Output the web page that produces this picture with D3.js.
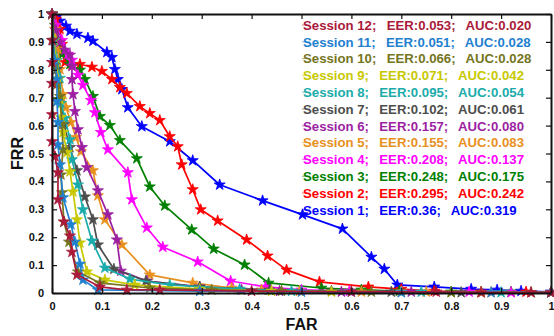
<!DOCTYPE html>
<html><head><meta charset="utf-8">
<script src="https://cdn.jsdelivr.net/npm/d3@7"></script>
<style>
html,body{margin:0;padding:0;background:#fff;}
svg{display:block;}
text{font-family:"Liberation Sans",Arial,Helvetica,sans-serif;font-weight:bold;}
</style></head>
<body>
<svg id="chart" width="554" height="336"></svg>
<script>
// ---- data: [FAR, FRR] pairs per session ----
const session1 = [[0,1],[0.008,0.99],[0.016,0.975],[0.028,0.957],[0.036,0.939],[0.05,0.928],[0.072,0.914],[0.082,0.903],[0.11,0.863],[0.12,0.845],[0.126,0.802],[0.132,0.766],[0.14,0.73],[0.152,0.665],[0.18,0.597],[0.236,0.543],[0.282,0.475],[0.336,0.388],[0.422,0.331],[0.502,0.281],[0.582,0.23],[0.64,0.129],[0.666,0.086],[0.692,0.029],[0.766,0.022],[0.84,0.014],[0.892,0.011],[0.94,0.007],[1,0.004]];
const session2 = [[0,1],[0.008,0.982],[0.016,0.946],[0.02,0.892],[0.02,0.863],[0.026,0.827],[0.04,0.817],[0.056,0.82],[0.08,0.81],[0.1,0.795],[0.12,0.766],[0.136,0.737],[0.15,0.716],[0.176,0.669],[0.196,0.644],[0.216,0.619],[0.236,0.561],[0.252,0.525],[0.26,0.46],[0.282,0.371],[0.298,0.299],[0.332,0.259],[0.39,0.191],[0.432,0.133],[0.47,0.083],[0.536,0.04],[0.634,0.022],[0.7,0.014],[0.766,0.007],[0.86,0.004],[0.95,0.004],[1,0.002]];
const session3 = [[0,1],[0.006,0.96],[0.012,0.906],[0.02,0.856],[0.036,0.82],[0.056,0.799],[0.066,0.766],[0.082,0.705],[0.096,0.633],[0.116,0.601],[0.136,0.547],[0.17,0.482],[0.196,0.381],[0.226,0.313],[0.28,0.227],[0.324,0.158],[0.386,0.101],[0.434,0.036],[0.54,0.018],[0.62,0.011],[0.696,0.007],[0.8,0.004],[0.92,0.004],[1,0.002]];
const session4 = [[0,1],[0.008,0.96],[0.02,0.906],[0.032,0.856],[0.04,0.835],[0.052,0.781],[0.062,0.745],[0.078,0.691],[0.086,0.647],[0.098,0.576],[0.112,0.514],[0.152,0.432],[0.16,0.335],[0.19,0.234],[0.222,0.165],[0.292,0.112],[0.358,0.043],[0.428,0.022],[0.5,0.011],[0.596,0.007],[0.7,0.004],[0.836,0.004],[0.92,0.002],[1,0.002]];
const session5 = [[0,1],[0.006,0.946],[0.012,0.874],[0.016,0.802],[0.022,0.712],[0.028,0.665],[0.038,0.612],[0.048,0.558],[0.058,0.507],[0.082,0.439],[0.092,0.349],[0.106,0.263],[0.14,0.173],[0.196,0.065],[0.282,0.036],[0.36,0.018],[0.42,0.011],[0.496,0.007],[0.62,0.004],[0.75,0.004],[0.88,0.002],[1,0.002]];
const session6 = [[0,1],[0.008,0.942],[0.016,0.899],[0.026,0.871],[0.036,0.853],[0.04,0.813],[0.04,0.766],[0.042,0.712],[0.046,0.651],[0.052,0.586],[0.06,0.522],[0.07,0.45],[0.092,0.367],[0.112,0.281],[0.13,0.191],[0.138,0.079],[0.19,0.043],[0.296,0.022],[0.38,0.011],[0.456,0.007],[0.58,0.004],[0.72,0.004],[0.86,0.002],[1,0.002]];
const session7 = [[0,1],[0.004,0.906],[0.01,0.802],[0.016,0.694],[0.024,0.604],[0.036,0.522],[0.05,0.439],[0.066,0.345],[0.082,0.263],[0.092,0.173],[0.124,0.086],[0.188,0.043],[0.296,0.022],[0.436,0.011],[0.56,0.007],[0.68,0.004],[0.82,0.002],[1,0.002]];
const session8 = [[0,1],[0.004,0.906],[0.01,0.834],[0.016,0.77],[0.018,0.68],[0.026,0.626],[0.036,0.55],[0.04,0.478],[0.052,0.388],[0.062,0.299],[0.08,0.187],[0.106,0.09],[0.156,0.05],[0.236,0.029],[0.376,0.014],[0.48,0.007],[0.6,0.004],[0.74,0.004],[0.9,0.002],[1,0.002]];
const session9 = [[0,1],[0.004,0.906],[0.008,0.834],[0.012,0.766],[0.016,0.694],[0.018,0.63],[0.022,0.576],[0.03,0.504],[0.036,0.435],[0.042,0.363],[0.05,0.263],[0.056,0.18],[0.07,0.076],[0.106,0.047],[0.166,0.029],[0.296,0.014],[0.44,0.007],[0.56,0.004],[0.7,0.004],[0.86,0.002],[1,0.002]];
const session10 = [[0,1],[0.002,0.906],[0.006,0.817],[0.01,0.748],[0.016,0.705],[0.02,0.604],[0.022,0.514],[0.018,0.424],[0.02,0.36],[0.024,0.255],[0.034,0.183],[0.052,0.076],[0.096,0.036],[0.196,0.018],[0.32,0.011],[0.46,0.007],[0.64,0.004],[0.8,0.002],[0.96,0.002],[1,0.002]];
const session11 = [[0,1],[0.002,0.906],[0.006,0.834],[0.01,0.766],[0.01,0.687],[0.012,0.612],[0.012,0.532],[0.016,0.46],[0.022,0.342],[0.038,0.245],[0.046,0.183],[0.056,0.104],[0.062,0.047],[0.092,0.011],[0.296,0.007],[0.5,0.004],[0.7,0.002],[0.88,0.002],[1,0.002]];
const session12 = [[0,1],[0,0.906],[0,0.827],[0,0.752],[0,0.64],[0,0.543],[0.006,0.489],[0.012,0.432],[0.012,0.335],[0.024,0.255],[0.036,0.205],[0.04,0.147],[0.05,0.065],[0.096,0.022],[0.15,0.011],[0.216,0.011],[0.4,0.007],[0.6,0.004],[0.77,0.004],[0.86,0.002],[0.96,0.002],[1,0.002]];

const sessionNames = ["Session 1","Session 2","Session 3","Session 4","Session 5","Session 6","Session 7","Session 8","Session 9","Session 10","Session 11","Session 12"];
const eerValues = ["0.36","0.295","0.248","0.208","0.155","0.157","0.102","0.095","0.071","0.066","0.051","0.053"];
const aucValues = ["0.319","0.242","0.175","0.137","0.083","0.080","0.061","0.054","0.042","0.028","0.028","0.020"];
const sessionColors = ["#0000ff","#ff0000","#008000","#ff00ff","#e8901e","#9c1fa2","#4d4d4d","#1aabab","#c8c800","#75751e","#1f80d0","#aa1a3a"];
const xTicks = [0,0.1,0.2,0.3,0.4,0.5,0.6,0.7,0.8,0.9,1];
const yTicks = [0,0.1,0.2,0.3,0.4,0.5,0.6,0.7,0.8,0.9,1];
const xTickLabels = ["0","0.1","0.2","0.3","0.4","0.5","0.6","0.7","0.8","0.9","1"];
const yTickLabels = ["0","0.1","0.2","0.3","0.4","0.5","0.6","0.7","0.8","0.9","1"];
const sessions = [session1,session2,session3,session4,session5,session6,session7,session8,session9,session10,session11,session12];

(function(){
// ---- layout ----
const L = 52, R = 551, T = 14, B = 293;
const svg = d3.select("#chart");
const x = d3.scaleLinear().domain([0,1]).range([L,R]);
const y = d3.scaleLinear().domain([0,1]).range([B,T]);

// curves
const line = d3.line().x(d=>x(d[0])).y(d=>y(d[1]));
const star = d3.symbol().type(d3.symbolStar).size(38);
sessions.forEach((s,i)=>{
  const g = svg.append("g");
  g.append("path").attr("d",line(s)).attr("fill","none")
    .attr("stroke",sessionColors[i]).attr("stroke-width",1.7).attr("stroke-linejoin","round");
  g.selectAll("path.m").data(s).enter().append("path").attr("class","m")
    .attr("d",star).attr("transform",d=>`translate(${x(d[0])},${y(d[1])})`)
    .attr("fill",sessionColors[i]).attr("stroke",sessionColors[i]).attr("stroke-width",0.8);
});

// axes (ticks inside, box)
const axisColor = "#111";
const ax = svg.append("g");
const axB = d3.axisBottom(x).tickValues(xTicks).tickFormat((d,i)=>xTickLabels[i]).tickSizeInner(-5).tickSizeOuter(0).tickPadding(9);
const axL = d3.axisLeft(y).tickValues(yTicks).tickFormat((d,i)=>yTickLabels[i]).tickSizeInner(-5).tickSizeOuter(0).tickPadding(8);
const axT = d3.axisTop(x).tickValues(xTicks).tickFormat("").tickSizeInner(-5).tickSizeOuter(0);
const axR = d3.axisRight(y).tickValues(yTicks).tickFormat("").tickSizeInner(-5).tickSizeOuter(0);
const gB = ax.append("g").attr("transform",`translate(0,${B})`).call(axB);
const gL = ax.append("g").attr("transform",`translate(${L},0)`).call(axL);
const gT = ax.append("g").attr("transform",`translate(0,${T})`).call(axT);
const gR = ax.append("g").attr("transform",`translate(${R},0)`).call(axR);
[gB,gL,gT,gR].forEach(g=>{
  g.select(".domain").attr("stroke",axisColor).attr("stroke-width",2);
  g.selectAll(".tick line").attr("stroke",axisColor).attr("stroke-width",1.2);
  g.selectAll(".tick text").attr("fill","#111").style("font-size","11px").style("font-weight","bold").style("font-family","'Liberation Sans',Arial,sans-serif");
});

// axis titles
svg.append("text").attr("x",(L+R)/2).attr("y",330).attr("text-anchor","middle")
  .style("font-size","16px").attr("fill","#111").text("FAR");
svg.append("text").attr("transform",`translate(23,${(T+B)/2}) rotate(-90)`).attr("text-anchor","middle")
  .style("font-size","16px").attr("fill","#111").text("FRR");

// legend (Session 12 on top)
const lg = svg.append("g");
for (let k=11;k>=0;k--){
  const row = 11-k;
  const cy = 25 + row*16.8;
  lg.append("line").attr("x1",302).attr("x2",310).attr("y1",cy).attr("y2",cy)
    .attr("stroke",sessionColors[k]).attr("stroke-width",1.2).attr("opacity",0.5);
  const t = lg.append("text").attr("x",303).attr("y",cy+4.7)
    .attr("fill",sessionColors[k]).style("font-size","13.2px").style("white-space","pre");
  t.append("tspan").text(`${sessionNames[k]};`);
  t.append("tspan").attr("dx",3).text(`  EER:${eerValues[k]};`);
  t.append("tspan").attr("dx",3).text(`  AUC:${aucValues[k]}`);
}
})();
</script>
</body></html>
